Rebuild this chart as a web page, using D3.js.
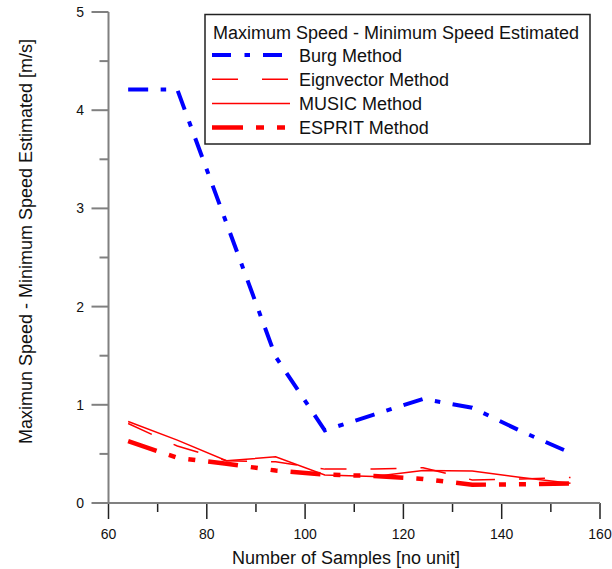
<!DOCTYPE html>
<html>
<head>
<meta charset="utf-8">
<script src="https://cdn.jsdelivr.net/npm/d3@7"></script>
<style>
  body { margin: 0; background: #fff; }
  svg { display: block; font-family: "Liberation Sans", Arial, sans-serif; }
</style>
</head>
<body>
<div class="chart"></div>
<script>
// values
var samples = [64, 74, 84, 94, 104, 114, 124, 134, 144, 154];
var burg    = [4.21, 4.21, 2.85, 1.49, 0.74, 0.90, 1.06, 0.97, 0.73, 0.51];
var eigen   = [0.81, 0.58, 0.43, 0.42, 0.345, 0.345, 0.36, 0.235, 0.245, 0.26];
var music   = [0.83, 0.64, 0.43, 0.47, 0.285, 0.27, 0.33, 0.325, 0.26, 0.20];
var esprit  = [0.63, 0.46, 0.40, 0.33, 0.29, 0.275, 0.245, 0.186, 0.19, 0.20];

var seriesNames = ["Burg Method", "Eignvector Method", "MUSIC Method", "ESPRIT Method"];
var legendTitle = "Maximum Speed - Minimum Speed Estimated";
var xTitle = "Number of Samples [no unit]";
var yTitle = "Maximun Speed - Minimum Speed Estimated [m/s]";
var xTicks = [60, 80, 100, 120, 140, 160];
var yTicks = [0, 1, 2, 3, 4, 5];

var width = 612, height = 569;

var svg = d3.select(".chart")
  .append("svg")
  .attr("width", width)
  .attr("height", height);

var xScale = d3.scaleLinear().domain([60, 160]).range([108.5, 600]);
var yScale = d3.scaleLinear().domain([0, 5]).range([503, 12]);

// minor ticks
var xMinor = d3.range(60, 161, 10);
var yMinor = d3.range(0, 5.01, 0.5);

var axisG = svg.append("g");

axisG.selectAll(".xminor")
  .data(xMinor)
  .enter().append("line")
  .attr("x1", function(d) { return xScale(d); })
  .attr("x2", function(d) { return xScale(d); })
  .attr("y1", yScale(0))
  .attr("y2", function(d) { return yScale(0) + (d % 20 == 0 ? 16 : 9); })
  .attr("stroke", "#222")
  .attr("stroke-width", 1.5);

axisG.selectAll(".yminor")
  .data(yMinor)
  .enter().append("line")
  .attr("y1", function(d) { return yScale(d); })
  .attr("y2", function(d) { return yScale(d); })
  .attr("x1", xScale(60))
  .attr("x2", function(d) { return xScale(60) - (d % 1 == 0 ? 17 : 9); })
  .attr("stroke", "#808080")
  .attr("stroke-width", 2);

// axis lines
axisG.append("line")
  .attr("x1", xScale(60)).attr("x2", xScale(160))
  .attr("y1", yScale(0)).attr("y2", yScale(0))
  .attr("stroke", "#808080").attr("stroke-width", 2);
axisG.append("line")
  .attr("x1", xScale(60)).attr("x2", xScale(60))
  .attr("y1", yScale(0) + 1).attr("y2", yScale(5))
  .attr("stroke", "#808080").attr("stroke-width", 2);

// tick labels
axisG.selectAll(".xlab")
  .data(xTicks)
  .enter().append("text")
  .attr("x", function(d) { return xScale(d); })
  .attr("y", 539)
  .attr("text-anchor", "middle")
  .attr("font-size", 14)
  .attr("fill", "#111")
  .text(function(d) { return d; });

axisG.selectAll(".ylab")
  .data(yTicks)
  .enter().append("text")
  .attr("x", 84)
  .attr("y", function(d) { return yScale(d) + 5; })
  .attr("text-anchor", "end")
  .attr("font-size", 14)
  .attr("fill", "#111")
  .text(function(d) { return d; });

svg.append("text")
  .attr("x", 346)
  .attr("y", 564)
  .attr("text-anchor", "middle")
  .attr("font-size", 18)
  .attr("fill", "#111")
  .text(xTitle);

svg.append("text")
  .attr("transform", "translate(32,241.5) rotate(-90)")
  .attr("text-anchor", "middle")
  .attr("font-size", 18)
  .attr("fill", "#111")
  .text(yTitle);

// series
var styles = [
  { color: "#0000ff", w: 4,   dash: "20,12.5,5.5,12.5" },
  { color: "#ff0000", w: 1.5, dash: "26,24" },
  { color: "#ff0000", w: 1.5, dash: null },
  { color: "#ff0000", w: 4.5, dash: "30,13,7,13,7,13" }
];
var allSeries = [burg, eigen, music, esprit];

var line = d3.line()
  .x(function(d, i) { return xScale(samples[i]); })
  .y(function(d) { return yScale(d); });

// draw red first, burg on top
[3, 1, 2, 0].forEach(function(k) {
  svg.append("path")
    .datum(allSeries[k])
    .attr("d", line)
    .attr("fill", "none")
    .attr("stroke", styles[k].color)
    .attr("stroke-width", styles[k].w)
    .attr("stroke-dasharray", styles[k].dash);
});

// legend
var lg = svg.append("g");
lg.append("rect")
  .attr("x", 205).attr("y", 14.5)
  .attr("width", 385).attr("height", 129.5)
  .attr("fill", "#fff")
  .attr("stroke", "#222")
  .attr("stroke-width", 1.5);

lg.append("text")
  .attr("x", 213).attr("y", 39)
  .attr("font-size", 18)
  .attr("fill", "#111")
  .text(legendTitle);

seriesNames.forEach(function(name, i) {
  var ly = 55 + i * 24.2;
  lg.append("line")
    .attr("x1", 212).attr("x2", 290)
    .attr("y1", ly).attr("y2", ly)
    .attr("stroke", styles[i].color)
    .attr("stroke-width", styles[i].w)
    .attr("stroke-dasharray", i == 0 ? "19,13.5,5.5,13" : (i == 3 ? "31,13,8,13,8,13" : styles[i].dash));
  lg.append("text")
    .attr("x", 299).attr("y", ly + 6.5)
    .attr("font-size", 18)
    .attr("fill", "#111")
    .text(name);
});
</script>
</body>
</html>
